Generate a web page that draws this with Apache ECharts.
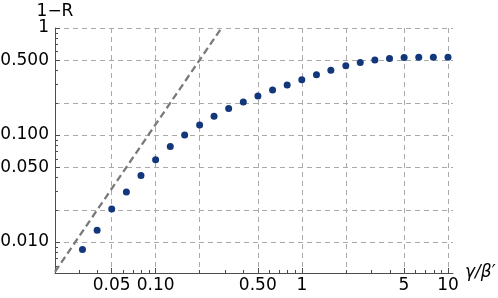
<!DOCTYPE html>
<html><head><meta charset="utf-8">
<script src="https://cdn.jsdelivr.net/npm/echarts@6/dist/echarts.min.js"></script>
<style>html,body{margin:0;padding:0;background:#fff}#c{width:498px;height:298px}</style>
</head><body><div id="c"></div>
<script>
const xValues = [0.0316, 0.0398, 0.0501, 0.0631, 0.0794, 0.1, 0.126, 0.158, 0.2, 0.251, 0.316, 0.398, 0.501, 0.631, 0.794, 1, 1.26, 1.58, 2, 2.51, 3.16, 3.98, 5.01, 6.31, 7.94, 10];
const yValues = [0.0085, 0.0129, 0.0204, 0.0294, 0.0418, 0.0589, 0.078, 0.100, 0.124, 0.150, 0.177, 0.204, 0.232, 0.263, 0.294, 0.328, 0.365, 0.404, 0.443, 0.476, 0.503, 0.519, 0.530, 0.533, 0.534, 0.534];
const refLineX = [0.0205, 0.282];
const refLineY = [0.00528, 1];
const xRange = [0.0205, 10.82];
const yRange = [0.00514, 1];
const xLabelTicks = [0.05, 0.1, 0.5, 1, 5, 10];
const xLabelText = ['0.05', '0.10', '0.50', '1', '5', '10'];
const xGridTicks = [0.05, 0.1, 0.2, 0.5, 1, 2, 5, 10];
const xMinorTicks = [0.03, 0.04, 0.06, 0.07, 0.08, 0.09, 0.2, 0.3, 0.4, 0.6, 0.7, 0.8, 0.9, 2, 3, 4, 6, 7, 8, 9];
const yLabelTicks = [0.01, 0.05, 0.1, 0.5, 1];
const yLabelText = ['0.010', '0.050', '0.100', '0.500', '1'];
const yGridTicks = [0.01, 0.02, 0.05, 0.1, 0.2, 0.5, 1];
const yMinorTicks = [0.006, 0.007, 0.008, 0.009, 0.02, 0.03, 0.04, 0.06, 0.07, 0.08, 0.09, 0.2, 0.3, 0.4, 0.6, 0.7, 0.8, 0.9];
const xName = 'γ/β\u2032';
const yName = '1\u2212R';

const FONT = 'DejaVu Sans';
const AXIS_COLOR = '#4d4d4d';
const GRID_COLOR = '#aaaaaa';

function pick(ticks, texts) {
  return function (v) {
    let best = 0, bd = Infinity;
    for (let i = 0; i < ticks.length; i++) {
      const d = Math.abs(Math.log(v) - Math.log(ticks[i]));
      if (d < bd) { bd = d; best = i; }
    }
    return texts[best];
  };
}

function axisSet(dim, range, gridTicks, labelTicks, labelTexts, minorTicks, name) {
  const base = { type: 'log', logBase: 10, min: range[0], max: range[1], gridIndex: 0,
    position: dim === 'x' ? 'bottom' : 'left', offset: 0 };
  const gridAxis = Object.assign({}, base, {
    axisLine: { show: false },
    axisTick: { show: false, customValues: gridTicks },
    axisLabel: { show: false },
    splitLine: { show: true, lineStyle: { color: GRID_COLOR, type: [5, 4], width: 1 } },
    minorTick: { show: false }, minorSplitLine: { show: false }
  });
  const majorAxis = Object.assign({}, base, {
    axisLine: { show: true, onZero: false, lineStyle: { color: AXIS_COLOR, width: 1 } },
    axisTick: { show: true, inside: true, length: 5, customValues: labelTicks, lineStyle: { color: AXIS_COLOR } },
    axisLabel: { show: true, customValues: labelTicks, formatter: pick(labelTicks, labelTexts),
      fontFamily: FONT, fontSize: 17, color: '#000', margin: dim === 'x' ? 4 : 6 },
    splitLine: { show: false },
    name: name,
    nameLocation: 'end',
    nameGap: dim === 'x' ? 12 : 15,
    nameTextStyle: dim === 'x'
      ? { fontFamily: FONT, fontSize: 17, fontStyle: 'italic', color: '#000', align: 'left', verticalAlign: 'middle', padding: [6, 0, 0, 0] }
      : { fontFamily: FONT, fontSize: 17, color: '#000', align: 'center', verticalAlign: 'middle' }
  });
  const minorAxis = Object.assign({}, base, {
    axisLine: { show: false },
    axisTick: { show: true, inside: true, length: 3, customValues: minorTicks, lineStyle: { color: AXIS_COLOR } },
    axisLabel: { show: false },
    splitLine: { show: false }
  });
  return [majorAxis, gridAxis, minorAxis];
}

const chart = echarts.init(document.getElementById('c'), null, { renderer: 'canvas' });
chart.setOption({
  animation: false,
  backgroundColor: '#ffffff',
  grid: { left: 55, right: 45, top: 28, bottom: 25, containLabel: false, outerBoundsMode: 'none' },
  xAxis: axisSet('x', xRange, xGridTicks, xLabelTicks, xLabelText, xMinorTicks, xName),
  yAxis: axisSet('y', yRange, yGridTicks, yLabelTicks, yLabelText, yMinorTicks, yName),
  series: [
    {
      type: 'line', xAxisIndex: 0, yAxisIndex: 0,
      data: refLineX.map((x, i) => [x, refLineY[i]]),
      symbol: 'none', clip: true,
      lineStyle: { color: '#7a7a7a', width: 2.3, type: [7, 4] }
    },
    {
      type: 'scatter', xAxisIndex: 0, yAxisIndex: 0,
      data: xValues.map((x, i) => [x, yValues[i]]),
      symbol: 'circle', symbolSize: 7,
      itemStyle: { color: '#12377a', opacity: 1 }
    }
  ]
});
</script></body></html>
